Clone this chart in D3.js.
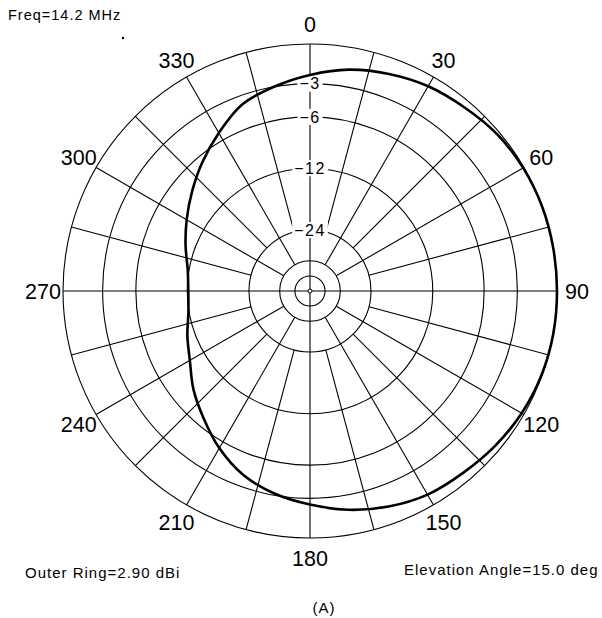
<!DOCTYPE html>
<html><head><meta charset="utf-8">
<script src="https://cdn.jsdelivr.net/npm/d3@7"></script>
<style>
body{margin:0;background:#fff}
text{font-family:"Liberation Sans",Arial,sans-serif;fill:#000}
</style>
</head><body>
<svg id="chart" width="602" height="618"></svg>
<script>
// ---- data ----
const azimuths = [0,10,20,30,40,50,60,70,80,90,100,110,120,130,140,150,160,170,
                  180,190,200,210,220,230,240,250,260,270,280,290,300,310,320,330,340,350];
const gainDb   = [-2.3,-1.62,-1.15,-0.75,-0.5,-0.2,-0.06,0,0,0,0,-0.05,-0.18,-0.4,-0.66,-0.85,-1.27,-1.82,
                  -2.5,-3.15,-4.0,-5.3,-6.85,-8.3,-9.9,-10.95,-11.9,-12.15,-11.8,-10.7,-9.45,-8.1,-6.65,-5.2,-3.75,-3.0];
const ringDb      = [0,-3,-6,-12,-24,-36,-48];
const ringLabelDb = [-3,-6,-12,-24];
const ringLabels  = ["−3","−6","−12","−24"];
const angleTicks  = [0,30,60,90,120,150,180,210,240,270,300,330];
const angleLabels = ["0","30","60","90","120","150","180","210","240","270","300","330"];
const spokes      = [0,15,30,45,60,75,90,105,120,135,150,165,180,195,210,225,240,255,270,285,300,315,330,345];
const freqText  = "Freq=14.2 MHz";
const outerText = "Outer Ring=2.90 dBi";
const elevText  = "Elevation Angle=15.0 deg";
const caption   = "(A)";

// ---- layout ----
const cx = 310, cy = 291, R = 247;
const svg = d3.select("#chart");
const g = svg.append("g").attr("transform", `translate(${cx},${cy})`);

// ARRL log scale: each 2 dB = 0.89 of radius  ->  r = R * p^0.253
const rPow = d3.scalePow().exponent(0.25304).domain([0, 1]).range([0, R]);
const r = db => rPow(Math.pow(10, db / 10));
const rad = a => a * Math.PI / 180;

// rings
g.selectAll("circle.ring").data(ringDb).join("circle")
  .attr("class","ring").attr("r", d => r(d))
  .attr("fill","none").attr("stroke","#000").attr("stroke-width",1.1);

// spokes
const innerFor = a => (a % 90 === 0) ? 0 : (a % 30 === 0 ? r(-36) : r(-24));
g.selectAll("line.spoke").data(spokes).join("line")
  .attr("class","spoke")
  .attr("x1", a => innerFor(a) * Math.sin(rad(a)))
  .attr("y1", a => -innerFor(a) * Math.cos(rad(a)))
  .attr("x2", a => R * Math.sin(rad(a)))
  .attr("y2", a => -R * Math.cos(rad(a)))
  .attr("stroke","#000").attr("stroke-width",1.1);

// center dot
g.append("circle").attr("r",2).attr("fill","#fff").attr("stroke","#000").attr("stroke-width",1);

// ring labels with white background
const rl = g.selectAll("g.rl").data(ringLabelDb).join("g").attr("class","rl")
  .attr("transform", d => `translate(0,${-r(d)})`);
rl.append("rect").attr("x",-15).attr("y",-8).attr("width",30).attr("height",16).attr("fill","#fff");
rl.append("text").text((d,i) => ringLabels[i])
  .attr("text-anchor","middle").attr("dy","0.36em")
  .style("font-size","16px").style("letter-spacing","1.5px");
rl.each(function(){
  const t = d3.select(this).select("text").node().getBBox();
  d3.select(this).select("rect").attr("x", t.x - 2).attr("width", t.width + 4);
});

// pattern
const pts = azimuths.map((a,i) => [rad(a), r(gainDb[i])]);
const line = d3.lineRadial().angle(d => d[0]).radius(d => d[1]).curve(d3.curveCatmullRomClosed.alpha(0.5));
g.append("path").attr("d", line(pts)).attr("fill","none")
  .attr("stroke","#000").attr("stroke-width",2.6).attr("stroke-linejoin","round");

// angle labels
const LR = 267;
g.selectAll("text.al").data(angleTicks).join("text").attr("class","al")
  .attr("x", a => LR * Math.sin(rad(a)))
  .attr("y", a => -LR * Math.cos(rad(a)))
  .attr("dy","0.36em").attr("text-anchor","middle")
  .style("font-size","21.5px")
  .text((a,i) => angleLabels[i]);

// annotations
svg.append("text").attr("x",8).attr("y",20).style("font-size","14.5px").style("letter-spacing","1px").text(freqText);
svg.append("circle").attr("cx",123).attr("cy",38).attr("r",1.2).attr("fill","#000");
svg.append("text").attr("x",25).attr("y",578).style("font-size","15px").style("letter-spacing","1px").text(outerText);
svg.append("text").attr("x",404).attr("y",575).style("font-size","15px").style("letter-spacing","1px").text(elevText);
svg.append("text").attr("x",324).attr("y",613).attr("text-anchor","middle").style("font-size","15px").style("letter-spacing","1px").text(caption);
</script>
</body></html>
